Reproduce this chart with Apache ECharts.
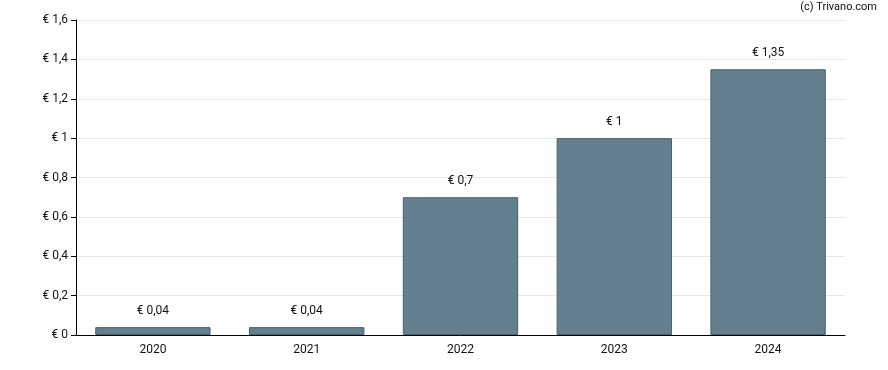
<!DOCTYPE html>
<html><head><meta charset="utf-8">
<script src="https://cdn.jsdelivr.net/npm/echarts@6/dist/echarts.min.js"></script>
<style>html,body{margin:0;padding:0;background:#fff}#c{width:888px;height:370px}</style>
</head><body><div id="c"></div>
<script>
const categories = ['2020','2021','2022','2023','2024'];
const values = [0.04, 0.04, 0.7, 1, 1.35];
const yTicks = [0, 0.2, 0.4, 0.6, 0.8, 1, 1.2, 1.4, 1.6];

const fmt = v => '€ ' + String(v).replace('.', ',');
const chart = echarts.init(document.getElementById('c'), null, {renderer:'canvas'});
chart.setOption({
  animation: false,
  textStyle: {fontFamily: 'Roboto'},
  grid: {left: 76, right: 43, top: 20, bottom: 35, containLabel: false},
  graphic: [{type:'text', right: 11, top: 2, style:{text:'(c) Trivano.com', fill:'#111', font:'11px Roboto'}}],
  xAxis: {
    type: 'category', data: categories,
    axisLine: {lineStyle: {color: '#000', width: 1}},
    axisTick: {alignWithLabel: true, length: 5, lineStyle:{color:'#000'}},
    axisLabel: {color: '#111', fontSize: 12, margin: 9, fontFamily:'Roboto'}
  },
  yAxis: {
    type: 'value', min: yTicks[0], max: yTicks[yTicks.length-1], interval: 0.2,
    axisLine: {show: true, lineStyle: {color: '#000', width: 1}},
    axisTick: {show: true, length: 5, lineStyle:{color:'#000'}},
    splitLine: {lineStyle: {color: '#e6e6e6'}},
    axisLabel: {color: '#111', fontSize: 12, margin: 8, fontFamily:'Roboto',
      formatter: v => fmt(Math.round(v*10)/10)}
  },
  series: [{
    type: 'bar', data: values, barWidth: '75%',
    itemStyle: {color: '#64808f', borderColor: '#47606f', borderWidth: 1},
    label: {show: true, position: 'top', distance: 10, color: '#111', fontSize: 12, fontFamily:'Roboto',
      formatter: p => fmt(p.value)}
  }]
});
</script></body></html>
